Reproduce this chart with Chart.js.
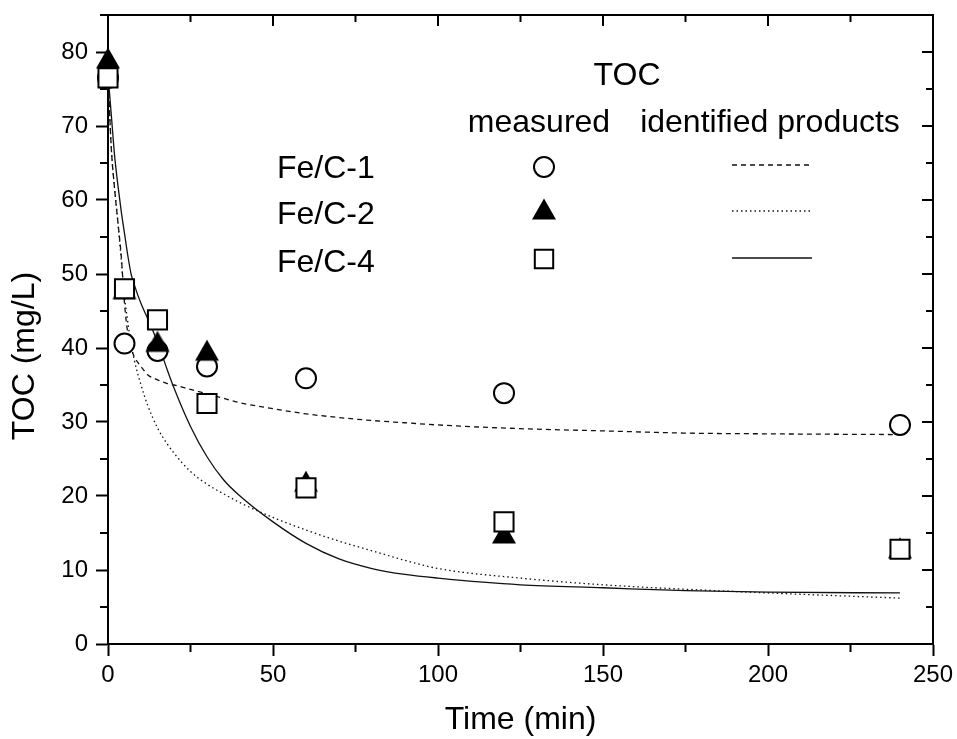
<!DOCTYPE html>
<html><head><meta charset="utf-8">
<script src="https://cdn.jsdelivr.net/npm/chart.js@4.4.1/dist/chart.umd.min.js"></script>
<style>html,body{margin:0;padding:0;background:#fff;}#wrap{width:957px;height:739px;}</style>
</head><body><div id="wrap"><canvas id="c" width="957" height="739"></canvas></div>
<script>
// measured TOC (mg/L)
const measTime = [0, 5, 15, 30, 60, 120, 240];
const measFeC1 = [76.5, 40.6, 39.6, 37.5, 35.9, 33.9, 29.6];
const measFeC2 = [79.2, 48.0, 40.9, 39.7, 22.0, 15.0, 13.0];
const measFeC4 = [76.5, 48.0, 43.8, 32.5, 21.1, 16.5, 12.8];
// TOC from identified products (curves)
const fitTime  = [0,1,2,3,4,5,6,7,8,10,12,15,18,20,25,30,35,40,50,60,70,80,90,100,125,150,175,200,240];
const fitFeC1  = [77,67,61.5,57,52.5,46,42,40,38.8,37.5,36.4,35.7,35.2,35,34.4,33.8,33.2,32.6,31.8,31.1,30.6,30.2,29.9,29.6,29.1,28.8,28.5,28.4,28.3];
const fitFeC2  = [77,67,61.5,57,52,47,43.5,40.5,38.3,35,32.3,29.2,27,25.8,23.3,21.6,20.3,19.1,17.1,15.4,13.9,12.6,11.3,10.2,8.9,8.0,7.4,6.9,6.2];
const fitFeC4  = [77,71.5,66,62,58.5,55.5,52.5,50,48.5,46,44,40.8,37,34.6,29.4,25.3,22.2,20,16.5,13.6,11.5,10.2,9.4,8.9,8.0,7.6,7.2,7.0,6.9];
const seriesNames = ['Fe/C-1', 'Fe/C-2', 'Fe/C-4'];
const xTickLabels = [0, 50, 100, 150, 200, 250];
const yTickLabels = [0, 10, 20, 30, 40, 50, 60, 70, 80];
const yTitle = 'TOC (mg/L)';
const xTitle = 'Time (min)';

const FONT = '"Liberation Sans", Arial, Helvetica, sans-serif';

function triangleImg() {
  const c = document.createElement('canvas');
  c.width = 26; c.height = 24;
  const g = c.getContext('2d');
  g.fillStyle = '#000';
  g.beginPath(); g.moveTo(13, 1.5); g.lineTo(25, 22.5); g.lineTo(1, 22.5); g.closePath(); g.fill();
  return c;
}
const TRI = triangleImg();

const pts = (xs, ys) => xs.map((x, i) => ({x: x, y: ys[i]}));

const lineDs = (ys, dash, order) => ({
  data: pts(fitTime, ys), showLine: true, pointRadius: 0, borderColor: '#111', borderWidth: 1.3,
  borderDash: dash, cubicInterpolationMode: 'monotone', fill: false, order: order, clip: false
});

const framePlugin = {
  id: 'frame',
  beforeDatasetsDraw(chart) {
    const {ctx, chartArea: a, scales: {x, y}} = chart;
    ctx.save();
    ctx.strokeStyle = '#000';
    ctx.lineWidth = 2;
    ctx.beginPath();
    ctx.moveTo(a.left - 1, a.top); ctx.lineTo(a.right, a.top); ctx.lineTo(a.right, a.bottom + 1);
    ctx.stroke();
    ctx.beginPath();
    for (let v = 0; v <= 250; v += 25) {
      const px = x.getPixelForValue(v);
      const major = v % 50 === 0;
      if (!major) { ctx.moveTo(px, a.bottom); ctx.lineTo(px, a.bottom + 8); }
      ctx.moveTo(px, a.top); ctx.lineTo(px, a.top + (major ? 11 : 7));
    }
    for (let v = 0; v <= 85; v += 5) {
      const py = y.getPixelForValue(v);
      const major = v % 10 === 0;
      if (!major) { ctx.moveTo(a.left, py); ctx.lineTo(a.left - 8, py); }
      ctx.moveTo(a.right, py); ctx.lineTo(a.right - (major ? 11 : 7), py);
    }
    ctx.stroke();
    ctx.fillStyle = '#000';
    ctx.font = '32px ' + FONT;
    ctx.textAlign = 'center';
    ctx.textBaseline = 'middle';
    ctx.translate(25, 356);
    ctx.rotate(-Math.PI / 2);
    ctx.fillText(yTitle, 0, 0);
    ctx.restore();
  },
  afterDraw(chart) {
    const ctx = chart.ctx;
    ctx.save();
    ctx.fillStyle = '#000';
    ctx.font = '32px ' + FONT;
    ctx.textBaseline = 'alphabetic';
    ctx.textAlign = 'center';
    ctx.fillText('TOC', 627, 85);
    ctx.fillText('measured', 539, 132);
    ctx.fillText('identified products', 770, 132);
    ctx.textAlign = 'left';
    const rows = [178, 224, 272];
    seriesNames.forEach((n, i) => ctx.fillText(n, 277, rows[i]));
    ctx.strokeStyle = '#000'; ctx.lineWidth = 2; ctx.fillStyle = '#fff';
    Chart.helpers.drawPoint(ctx, {pointStyle: 'circle', radius: 10, borderWidth: 2}, 544, 167);
    ctx.drawImage(TRI, 544 - 13, 209 - 12);
    ctx.fillStyle = '#fff';
    Chart.helpers.drawPoint(ctx, {pointStyle: 'rect', radius: 13, borderWidth: 2}, 544, 259);
    ctx.strokeStyle = '#111'; ctx.lineWidth = 1.3;
    const lines = [[165, [5, 4]], [211, [1.5, 3]], [258, []]];
    lines.forEach(([yy, d]) => {
      ctx.setLineDash(d); ctx.beginPath(); ctx.moveTo(732, yy); ctx.lineTo(812, yy); ctx.stroke();
    });
    ctx.restore();
  }
};

new Chart(document.getElementById('c'), {
  type: 'scatter',
  data: {
    datasets: [
      {label: seriesNames[2], data: pts(measTime, measFeC4), pointStyle: 'rect', pointRadius: 13.5,
       backgroundColor: '#fff', borderColor: '#000', borderWidth: 2, order: 1, clip: false},
      {label: seriesNames[1], data: pts(measTime, measFeC2), pointStyle: TRI, pointRadius: 12,
       backgroundColor: '#000', borderColor: '#000', order: 2, clip: false},
      {label: seriesNames[0], data: pts(measTime, measFeC1), pointStyle: 'circle', pointRadius: 10,
       backgroundColor: '#fff', borderColor: '#000', borderWidth: 2, order: 3, clip: false},
      lineDs(fitFeC1, [5, 4], 4),
      lineDs(fitFeC2, [1.5, 3], 5),
      lineDs(fitFeC4, [], 6)
    ]
  },
  options: {
    responsive: false, animation: false, devicePixelRatio: 1,
    layout: {padding: {left: 0, top: 15, right: 24, bottom: 0}, autoPadding: false},
    plugins: {legend: {display: false}, tooltip: {enabled: false}},
    scales: {
      x: {
        type: 'linear', position: 'bottom', min: 0, max: 250,
        ticks: {stepSize: 25, color: '#000', font: {family: FONT, size: 24}, padding: 5, maxRotation: 0, autoSkip: false,
                callback: v => xTickLabels.includes(v) ? String(v) : ''},
        grid: {drawOnChartArea: false, drawTicks: true, tickLength: 12, tickWidth: 2,
               tickColor: c => (c.tick && c.tick.value % 50 === 0) ? '#000' : 'rgba(0,0,0,0)'},
        border: {display: true, color: '#000', width: 2},
        title: {display: true, text: xTitle, color: '#000', font: {family: FONT, size: 32}, padding: {top: 0, bottom: 0}},
        afterFit: s => { s.height = 95; s.paddingLeft = 0; s.paddingRight = 0; }
      },
      y: {
        type: 'linear', position: 'left', min: 0, max: 85,
        ticks: {stepSize: 5, color: '#000', font: {family: FONT, size: 24}, padding: 8, autoSkip: false,
                callback: v => yTickLabels.includes(v) ? String(v) : ''},
        grid: {drawOnChartArea: false, drawTicks: true, tickLength: 12, tickWidth: 2,
               tickColor: c => (c.tick && c.tick.value % 10 === 0) ? '#000' : 'rgba(0,0,0,0)'},
        border: {display: true, color: '#000', width: 2},
        afterFit: s => { s.width = 108; s.paddingTop = 0; s.paddingBottom = 0; }
      }
    }
  },
  plugins: [framePlugin]
});
</script></body></html>
